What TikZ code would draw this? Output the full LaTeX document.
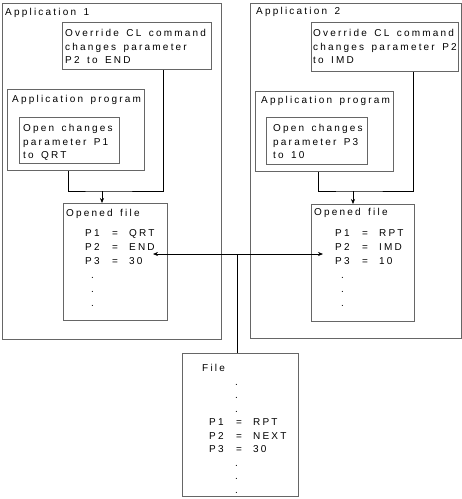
\documentclass[tikz,border=0pt]{standalone}
\usepackage{fontspec}
\setmainfont{Liberation Sans}[LetterSpace=22,WordSpace=1.5]
\usepackage{tikz}
\usetikzlibrary{arrows.meta,%
                positioning}

\newcommand{\parm}[2]{\makebox[27pt][l]{#1}\makebox[17pt][l]{=}#2}
\newcommand{\vdot}[1]{\hspace*{#1}.}

\tikzset{
  box/.style={draw=black!60, line width=0.9pt, anchor=north west, inner sep=0pt},
  txt/.style={anchor=north west, inner sep=0pt, align=left, font=\fontsize{10}{13.5}\selectfont},
  plist/.style={txt, font=\fontsize{10}{14}\selectfont},
  link/.style={draw=black, line width=0.6pt},
  tip/.style={-{Stealth[length=5pt,width=4pt]}},
  twotip/.style={{Stealth[length=5pt,width=4pt]}-{Stealth[length=5pt,width=4pt]}},
}

\begin{document}
\begin{tikzpicture}[x=1pt,y=-1pt]
\useasboundingbox (0,0) rectangle (462,499);

% Application 1
\node[box, minimum width=219, minimum height=336] (app1) at (2,3) {};
\node[txt] (app1t) at (5,8.4) {Application 1};
\node[box, minimum width=149, minimum height=47] (ov1) at (62,22) {};
\node[txt] (ov1t) at (65,29.4) {Override CL command\\changes parameter\\P2 to END};
\node[box, minimum width=137, minimum height=81] (prog1) at (7,89) {};
\node[txt] (prog1t) at (12,95.4) {Application program};
\node[box, minimum width=100, minimum height=46] (open1) at (19,117) {};
\node[txt] (open1t) at (23,124.4) {Open changes\\parameter P1\\to QRT};
\node[box, minimum width=104, minimum height=117] (of1) at (63,203) {};
\node[txt] (of1t) at (66,209.4) {Opened file};
\node[plist] (of1p) at (85,229.4) {\parm{P1}{QRT}\\\parm{P2}{END}\\\parm{P3}{30}\\\vdot{6pt}\\\vdot{6pt}\\\vdot{6pt}};

\coordinate (j1) at (102,191);
\draw[link] ([xshift=-7.5pt]prog1.south) |- (j1) -| ([xshift=26.5pt]ov1.south);
\draw[link,tip] (j1) -- (j1 |- of1.north);

% Application 2
\node[box, minimum width=211, minimum height=335] (app2) at (250,3) {};
\node[txt] (app2t) at (256,7.4) {Application 2};
\node[box, minimum width=147, minimum height=49] (ov2) at (311,22) {};
\node[txt] (ov2t) at (313,29.4) {Override CL command\\changes parameter P2\\to IMD};
\node[box, minimum width=138, minimum height=80] (prog2) at (255,91) {};
\node[txt] (prog2t) at (261,96.4) {Application program};
\node[box, minimum width=101, minimum height=47] (open2) at (266,117) {};
\node[txt] (open2t) at (273,124.4) {Open changes\\parameter P3\\to 10};
\node[box, minimum width=103, minimum height=117] (of2) at (311,204) {};
\node[txt] (of2t) at (314,208.4) {Opened file};
\node[plist] (of2p) at (335,229.4) {\parm{P1}{RPT}\\\parm{P2}{IMD}\\\parm{P3}{10}\\\vdot{6pt}\\\vdot{6pt}\\\vdot{6pt}};

\coordinate (j2) at (353,191);
\draw[link] ([xshift=-6pt]prog2.south) |- (j2) -| ([xshift=28.5pt]ov2.south);
\draw[link,tip] (j2) -- (j2 |- of2.north);

% File
\node[box, minimum width=116, minimum height=143] (file) at (182,353) {};
\node[txt] (filet) at (202,364.4) {File\\\vdot{33pt}\\\vdot{33pt}\\\vdot{33pt}\\
  \hspace*{7pt}\parm{P1}{RPT}\\\hspace*{7pt}\parm{P2}{NEXT}\\\hspace*{7pt}\parm{P3}{30}\\
  \vdot{33pt}\\\vdot{33pt}\\\vdot{33pt}};

\coordinate (tip1) at (153,254);
\coordinate (tip2) at (323,254);
\coordinate (hub) at (237,254);
\draw[link,twotip] (tip1) -- (tip2);
\draw[link] (hub) -- (hub |- file.north);
\end{tikzpicture}
\end{document}
